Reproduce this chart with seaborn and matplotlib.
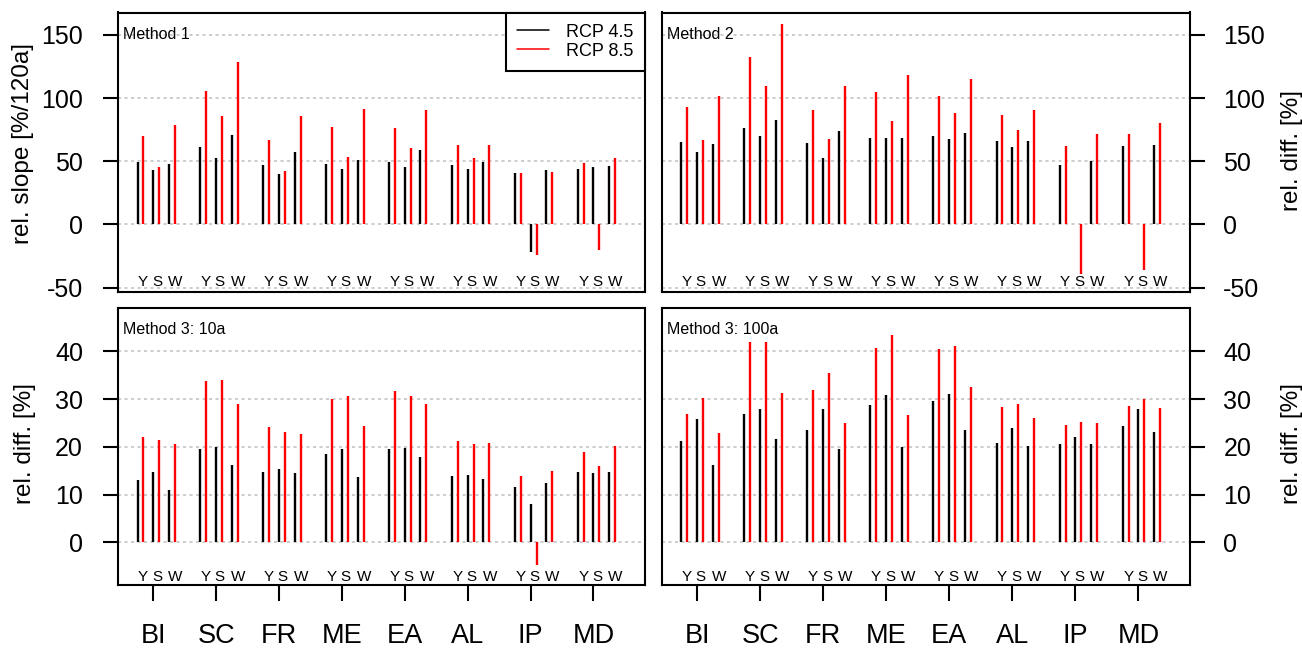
import numpy as np
import pandas as pd
import matplotlib
matplotlib.use("Agg")
import matplotlib.pyplot as plt
import matplotlib.transforms as mtransforms
from matplotlib.lines import Line2D
import seaborn as sns

# ---------------- data ----------------
regions = ["BI", "SC", "FR", "ME", "EA", "AL", "IP", "MD"]
seasons = ["Y", "S", "W"]
nan = np.nan

m1_rcp45 = [[49.2, 43.1, 48.1], [61.4, 52.9, 70.6], [47.4, 40.2, 57.7], [47.9, 44.2, 51.3],
            [49.7, 45.2, 58.7], [46.8, 44.2, 49.7], [41.0, -21.7, 43.1], [43.7, 45.8, 46.3]]
m1_rcp85 = [[70.1, 45.2, 78.8], [106.0, 85.7, 128.8], [67.2, 42.1, 85.7], [77.5, 53.4, 91.5],
            [76.5, 60.3, 90.5], [63.0, 52.6, 63.0], [41.0, -23.8, 41.5], [48.4, -20.4, 52.9]]
m2_rcp45 = [[65.6, 57.1, 63.5], [76.5, 70.1, 82.5], [64.8, 52.4, 74.3], [68.8, 68.8, 68.3],
            [70.1, 68.0, 72.2], [65.9, 61.6, 66.1], [46.8, nan, 50.3], [61.9, nan, 63.0]]
m2_rcp85 = [[93.1, 67.2, 101.6], [132.8, 109.5, 159.0], [91.0, 67.7, 110.0], [105.0, 82.0, 118.0],
            [101.9, 88.4, 115.3], [86.8, 74.9, 90.5], [61.9, -38.9, 71.7], [71.7, -36.2, 80.2]]
m3a_rcp45 = [[13.1, 14.7, 11.0], [19.6, 19.9, 16.3], [14.8, 15.3, 14.5], [18.6, 19.6, 13.6],
             [19.6, 19.8, 17.8], [13.8, 14.2, 13.2], [11.5, 8.0, 12.4], [14.7, 14.5, 14.8]]
m3a_rcp85 = [[22.1, 21.4, 20.6], [33.7, 34.0, 29.0], [24.2, 23.0, 22.6], [30.0, 30.6, 24.4],
             [31.6, 30.6, 29.0], [21.2, 20.5, 20.9], [14.0, -4.7, 14.9], [18.9, 15.9, 20.2]]
m3b_rcp45 = [[21.3, 25.9, 16.3], [26.9, 28.0, 21.6], [23.6, 27.9, 19.5], [28.8, 30.9, 20.0],
             [29.5, 31.0, 23.5], [20.9, 24.0, 20.2], [20.5, 22.1, 20.6], [24.4, 28.0, 23.0]]
m3b_rcp85 = [[26.9, 30.3, 22.9], [42.0, 42.0, 31.3], [31.8, 35.4, 24.9], [40.7, 43.3, 26.6],
             [40.4, 41.0, 32.5], [28.3, 29.0, 26.0], [24.6, 25.1, 25.0], [28.6, 29.9, 28.1]]

panel_titles = ["Method 1", "Method 2", "Method 3: 10a", "Method 3: 100a"]
legend_labels = ["RCP 4.5", "RCP 8.5"]
top_ticks = [-50, 0, 50, 100, 150]
bottom_ticks = [0, 10, 20, 30, 40]

# ---------------- style ----------------
sns.set_theme(style="white")
plt.rcParams['font.family'] = ['Liberation Sans', 'DejaVu Sans']
plt.rcParams['text.color'] = 'black'
plt.rcParams['axes.labelcolor'] = 'black'
plt.rcParams['xtick.color'] = 'black'
plt.rcParams['ytick.color'] = 'black'

W, H = 1302, 648
fig = plt.figure(figsize=(W / 100, H / 100), dpi=100)

def add_axes(x0, x1, t, b):
    return fig.add_axes([x0 / W, 1 - b / H, (x1 - x0) / W, (b - t) / H])

ax_tl = add_axes(117.7, 645.0, 12.5, 291.7)
ax_tr = add_axes(661.5, 1190.0, 12.5, 291.7)
ax_bl = add_axes(117.7, 645.0, 307.7, 585.0)
ax_br = add_axes(661.5, 1190.0, 307.7, 585.0)

panels = [
    (ax_tl, m1_rcp45, m1_rcp85, (-53.2, 167.8), top_ticks, "left", False, 0.036),
    (ax_tr, m2_rcp45, m2_rcp85, (-53.2, 167.8), top_ticks, "right", False, 0.036),
    (ax_bl, m3a_rcp45, m3a_rcp85, (-8.9, 49.1), bottom_ticks, "left", True, 0.030),
    (ax_br, m3b_rcp45, m3b_rcp85, (-8.9, 49.1), bottom_ticks, "right", True, 0.030),
]

season_off = [-0.25, 0.0, 0.25]
label_off = [0.09, 0.06, 0.10]
red_off = 0.095

for (ax, d45, d85, ylim, yt, side, bottom, lab_y), title in zip(panels, panel_titles):
    a45 = np.array(d45, dtype=float)
    a85 = np.array(d85, dtype=float)
    ax.set_xlim(-0.565, 7.82)
    ax.set_ylim(*ylim)
    for t in yt:
        ax.axhline(t, color="#c8c8c8", lw=1.3, ls=(0, (1.7, 1.9)), zorder=0)
    trans = mtransforms.blended_transform_factory(ax.transData, ax.transAxes)
    for gi in range(len(regions)):
        for si in range(len(seasons)):
            x = gi + season_off[si]
            v1 = a45[gi, si]
            v2 = a85[gi, si]
            if not np.isnan(v1):
                ax.vlines(x, 0, v1, color="black", lw=1.7, zorder=2)
            if not np.isnan(v2):
                ax.vlines(x + red_off, 0, v2, color="red", lw=1.7, zorder=2)
            ax.text(x + label_off[si], lab_y, seasons[si], transform=trans, ha="center",
                    va="center", fontsize=11, color="black")
    ax.annotate(title, xy=(0, 1), xycoords="axes fraction", xytext=(4, -15.7),
                textcoords="offset points", ha="left", va="center", fontsize=11.5,
                color="black")
    for sp in ax.spines.values():
        sp.set_visible(True)
        sp.set_color("black")
        sp.set_linewidth(1.5)
    ax.set_yticks(yt)
    ax.set_yticklabels([str(t) for t in yt])
    if side == "left":
        ax.tick_params(axis="y", which="both", left=True, right=False, labelleft=True,
                       labelright=False, direction="out", length=11, width=1.5,
                       color="black", labelsize=18, pad=14, labelcolor="black")
    else:
        ax.tick_params(axis="y", which="both", left=False, right=True, labelleft=False,
                       labelright=True, direction="out", length=11, width=1.5,
                       color="black", labelsize=18, pad=13, labelcolor="black")
    if bottom:
        ax.set_xticks(range(len(regions)))
        ax.set_xticklabels(regions)
        ax.tick_params(axis="x", bottom=True, direction="out", length=11.5, width=1.5,
                       color="black", labelsize=19.5, pad=16, labelcolor="black")
    else:
        ax.set_xticks([])
    ax.grid(False)

leg = ax_tl.legend(handles=[Line2D([], [], color="black", lw=1.1),
                            Line2D([], [], color="red", lw=1.1)],
                   labels=legend_labels, loc="upper right", borderaxespad=0,
                   frameon=True, fancybox=False, edgecolor="black", framealpha=1,
                   fontsize=13, handlelength=1.8, handletextpad=0.95,
                   borderpad=0.62, labelspacing=0.1)
leg.get_frame().set_linewidth(1.5)
for txt in leg.get_texts():
    txt.set_color("black")

fig.text(23.3 / W, 1 - 143 / H, "rel. slope [%/120a]", rotation=90, ha="center",
         va="center", fontsize=17.5, color="black")
fig.text(1291.7 / W, 1 - 150.7 / H, "rel. diff. [%]", rotation=90, ha="center",
         va="center", fontsize=17.5, color="black")
fig.text(25 / W, 1 - 444 / H, "rel. diff. [%]", rotation=90, ha="center",
         va="center", fontsize=17.5, color="black")
fig.text(1291.7 / W, 1 - 444 / H, "rel. diff. [%]", rotation=90, ha="center",
         va="center", fontsize=17.5, color="black")

fig.savefig("out.png", dpi=100)
